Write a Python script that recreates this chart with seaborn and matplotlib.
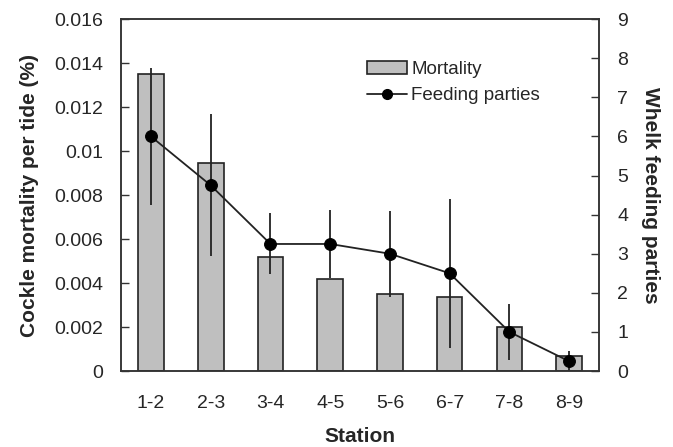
import matplotlib
matplotlib.use("Agg")
import matplotlib.pyplot as plt
import seaborn as sns
import numpy as np
import pandas as pd
from matplotlib.patches import Patch
from matplotlib.lines import Line2D

stations = ["1-2", "2-3", "3-4", "4-5", "5-6", "6-7", "7-8", "8-9"]
mortality = [0.0135, 0.00945, 0.00517, 0.0042, 0.0035, 0.00335, 0.0020, 0.0007]
feeding = [6.0, 4.75, 3.25, 3.25, 3.0, 2.5, 1.0, 0.25]
feeding_err = [1.75, 1.82, 0.78, 0.88, 1.1, 1.9, 0.72, 0.25]
left_ticks = [0, 0.002, 0.004, 0.006, 0.008, 0.01, 0.012, 0.014, 0.016]
left_labels = ["0", "0.002", "0.004", "0.006", "0.008", "0.01", "0.012", "0.014", "0.016"]

sns.set_style("white")
plt.rcParams['font.family'] = ['Liberation Sans', 'DejaVu Sans']

df = pd.DataFrame({"station": stations, "mortality": mortality, "feeding": feeding})

fig, ax = plt.subplots(figsize=(6.73, 4.47), dpi=100)
fig.subplots_adjust(left=0.18, right=0.89, top=0.957, bottom=0.17)

sns.barplot(data=df, x="station", y="mortality", color="#bfbfbf", edgecolor="#222222",
            linewidth=1.2, width=0.43, saturation=1, ax=ax)
ax.set_ylim(0, 0.016)
ax.set_yticks(left_ticks)
ax.set_yticklabels(left_labels)
ax.set_xlim(-0.5, 7.5)
ax.set_xlabel("Station", fontsize=15, fontweight="bold", labelpad=11)
ax.set_ylabel("Cockle mortality per tide (%)", fontsize=15, fontweight="bold", labelpad=11)

# x ticks between categories, crossing the axis
ax.set_xticks(np.arange(8))
ax.tick_params(axis="x", length=0, labelsize=14, pad=17)
ax.set_xticks(np.arange(-0.5, 8.0, 1.0), minor=True)
ax.tick_params(axis="x", which="minor", direction="inout", length=10, width=1, color="#333333")
ax.tick_params(axis="y", direction="in", length=6, width=1, labelsize=14, color="#333333", pad=13)

ax2 = ax.twinx()
ax2.errorbar(np.arange(8), feeding, yerr=feeding_err, fmt="none", ecolor="#222222",
             elinewidth=1.3, capsize=0, zorder=2)
sns.lineplot(x=np.arange(8), y=feeding, color="#222222", linewidth=1.3, marker="o",
             markersize=8.5, markeredgecolor="black", markerfacecolor="black", ax=ax2, zorder=3)
ax2.set_ylim(0, 9)
ax2.set_yticks(range(10))
ax2.tick_params(axis="y", direction="in", length=6, width=1, labelsize=14, color="#333333", pad=13)
ax2.set_ylabel("Whelk feeding parties", fontsize=15, fontweight="bold", rotation=270, labelpad=23)
ax2.set_xlim(-0.5, 7.5)

for a in (ax, ax2):
    for s in a.spines.values():
        s.set_color("#333333")
        s.set_linewidth(1.1)

handles = [Patch(facecolor="#bfbfbf", edgecolor="#222222", linewidth=1.2),
           Line2D([0], [0], color="#222222", linewidth=1.3, marker="o", markersize=7,
                  markerfacecolor="black", markeredgecolor="black")]
ax2.legend(handles, ["Mortality", "Feeding parties"], loc="upper left",
           bbox_to_anchor=(0.48, 0.93), frameon=False, fontsize=13.5,
           handlelength=2.1, handletextpad=0.25, labelspacing=0.5)

fig.savefig("out.png", dpi=100)
